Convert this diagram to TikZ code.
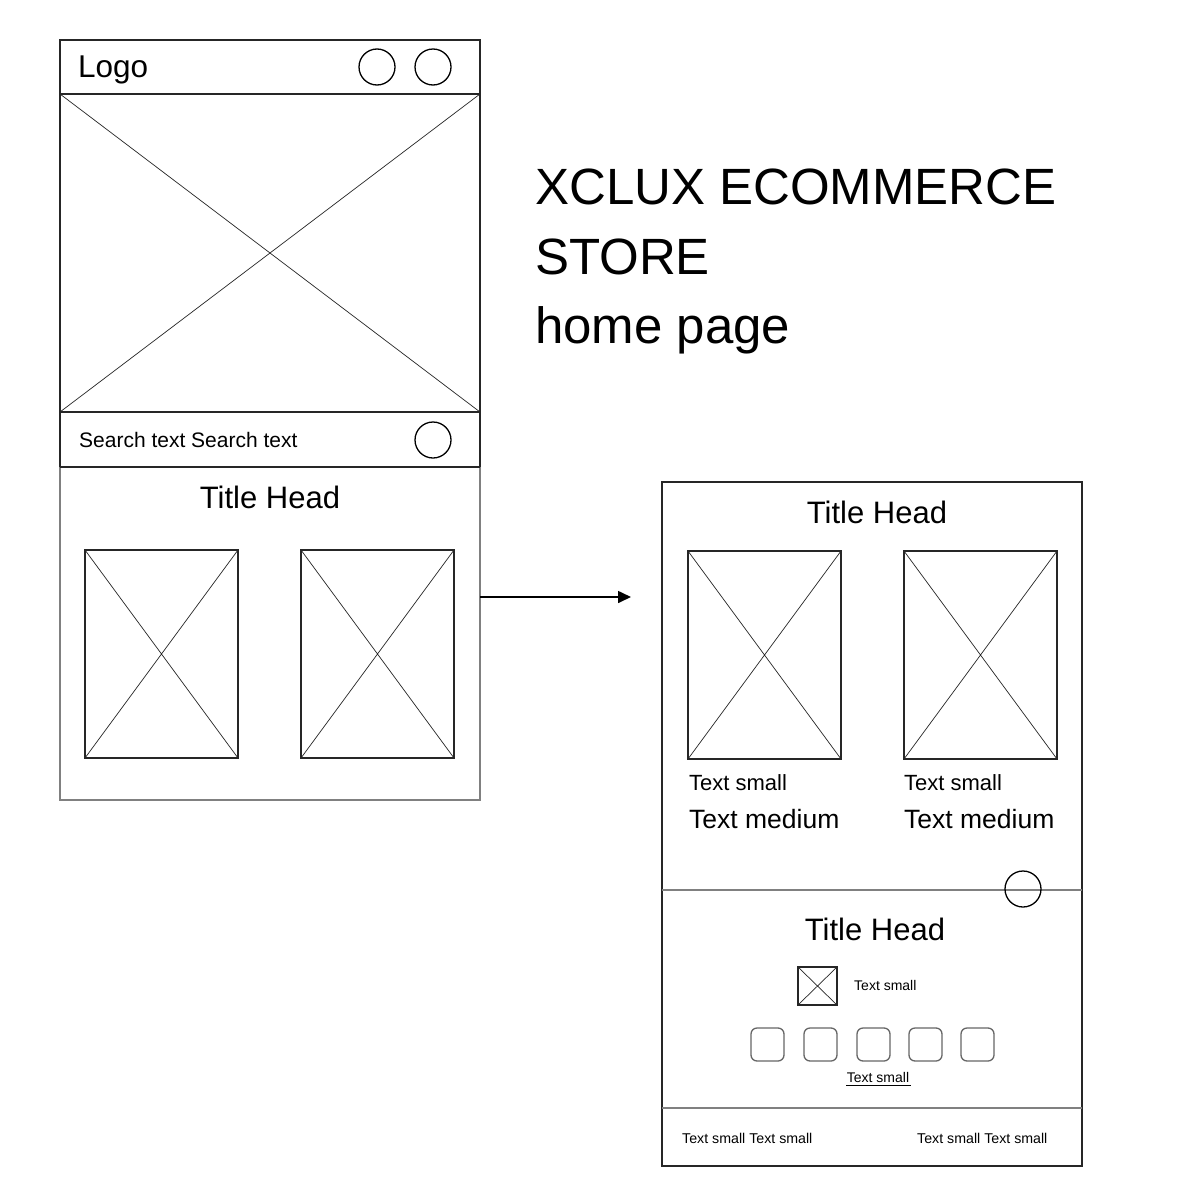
\documentclass[tikz,border=0pt]{standalone}
\usepackage{fontspec}
\setmainfont{Liberation Sans}
\usetikzlibrary{arrows.meta}
\newcommand\wfimage[4]{%
  \draw[imgframe] (#1,#2) rectangle (#3,#4);
  \draw[xline] (#1,#2) -- (#3,#4) (#1,#4) -- (#3,#2);}
\newcommand\fs[1]{\fontsize{#1}{#1}\selectfont}
\tikzset{
  frame/.style={draw=black!85, line width=1.3pt},
  softframe/.style={draw=black!50, line width=1.3pt},
  imgframe/.style={draw=black!85, line width=1.1pt},
  xline/.style={draw=black!85, line width=0.7pt},
  iconc/.style={draw=black, line width=1.3pt},
  chip/.style={draw=black!60, line width=1.3pt, rounded corners=6pt},
  txt/.style={inner sep=0pt, anchor=base west, text=black},
  ctxt/.style={inner sep=0pt, anchor=base, text=black}
}
\begin{document}
\begin{tikzpicture}[x=1pt,y=-1pt]
\useasboundingbox[fill=white] (0,0) rectangle (1194,1194);

% ---------- left screen ----------
\draw[softframe] (60,467) -- (60,800) -- (480,800) -- (480,467);
\draw[frame] (60,467) -- (60,40) -- (480,40) -- (480,467);
\draw[frame] (60,94) -- (480,94);
\draw[frame] (60,412) -- (480,412);
\draw[frame] (60,467) -- (480,467);
\draw[xline] (60,94) -- (480,412) (60,412) -- (480,94);
\node[txt] (logo) at (78,77) {\fs{31.5}Logo};
\draw[iconc] (377,67) circle (18);
\draw[iconc] (433,67) circle (18);
\node[txt] (search) at (79,447) {\fs{21}Search text Search text};
\draw[iconc] (433,440) circle (18);
\node[ctxt] (lhead) at (270,508) {\fs{31}Title Head};
\wfimage{85}{550}{238}{758}
\wfimage{301}{550}{454}{758}

% ---------- heading ----------
\node[txt] (t1) at (535,204) {\fs{51}XCLUX ECOMMERCE};
\node[txt] (t2) at (535,274) {\fs{51}STORE};
\node[txt] (t3) at (535,343) {\fs{51}home page};

% ---------- link ----------
\coordinate (arrowfrom) at (480,597);
\coordinate (arrowto) at (631,597);
\draw[line width=1.6pt, -{Triangle[length=13pt,width=12pt]}] (arrowfrom) -- (arrowto);

% ---------- right screen ----------
\draw[frame] (662,482) rectangle (1082,1166);
\draw[softframe, line width=1.1pt] (662,890) -- (1082,890);
\draw[softframe, line width=1.1pt] (662,1108) -- (1082,1108);
\node[ctxt] (rhead) at (877,523) {\fs{31}Title Head};
\wfimage{688}{551}{841}{759}
\wfimage{904}{551}{1057}{759}
\node[txt] (s1) at (689,790) {\fs{22}Text small};
\node[txt] (s2) at (904,790) {\fs{22}Text small};
\node[txt] (m1) at (689,828) {\fs{26.5}Text medium};
\node[txt] (m2) at (904,828) {\fs{26.5}Text medium};
\draw[iconc, fill=none] (1023,889) circle (18);
\node[ctxt] (rhead2) at (875,940) {\fs{31}Title Head};
\wfimage{798}{967}{837}{1005}
\node[txt] (s3) at (854,990) {\fs{14}Text small};
\foreach \x in {751,804,857,909,961}
  \draw[chip] (\x,1028) rectangle ++(33,33);
\node[ctxt] (s4) at (878,1082) {\fs{14}Text small};
\draw[line width=1.1pt] (846,1085.5) -- (911,1085.5);
\node[txt] (f1) at (682,1143) {\fs{14.2}Text small Text small};
\node[txt] (f2) at (917,1143) {\fs{14.2}Text small Text small};
\end{tikzpicture}
\end{document}
